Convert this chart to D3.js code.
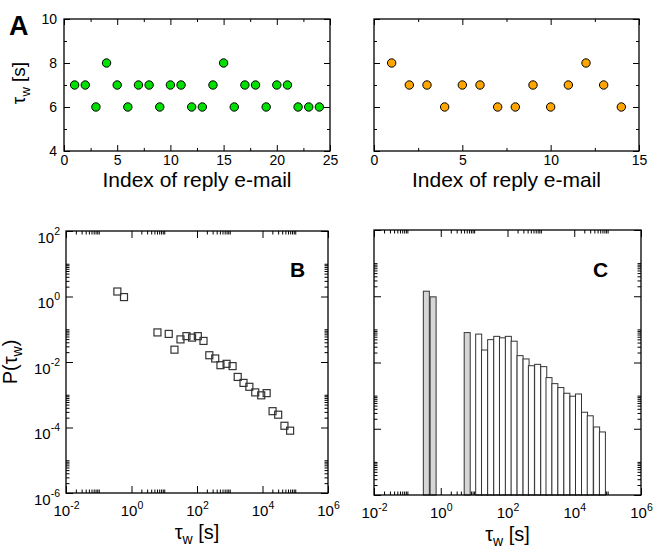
<!DOCTYPE html>
<html>
<head>
<meta charset="utf-8">
<script src="https://cdn.jsdelivr.net/npm/d3@7"></script>
<style>
body{margin:0;background:#fff;}
text{font-family:"Liberation Sans",Arial,Helvetica,sans-serif;}
</style>
</head>
<body>
<div id="figure"></div>
<script>
// panel A, left: waiting time of each reply e-mail
var replyIndexL = [1,2,3,4,5,6,7,8,9,10,11,12,13,14,15,16,17,18,19,20,21,22,23,24];
var waitL = [7,7,6,8,7,6,7,7,6,7,7,6,6,7,8,6,7,7,6,7,7,6,6,6];
// panel A, right
var replyIndexR = [1,2,3,4,5,6,7,8,9,10,11,12,13,14];
var waitR = [8,7,7,6,7,7,6,6,7,6,7,8,7,6];
// panels B and C: distribution of waiting times (log bins)
var binTau = [0.37,0.59,6.2,13.7,20.5,31.3,47.6,70.7,106,158,238,360,520,800,1220,1750,2630,3970,6000,9140,13400,20300,30100,46800,69700];
var binProb = [1.42,0.96,0.080,0.072,0.0238,0.049,0.0616,0.0556,0.0616,0.044,0.0161,0.0128,0.0080,0.0088,0.0075,0.0035,0.0023,0.00175,0.00118,0.00096,0.00112,0.000315,0.000246,0.000113,0.00008];
var shadedBins = 3;   // first bins drawn grey in panel C

// tick labels
var xTicksL = [0,5,10,15,20,25];
var xTicksR = [0,5,10,15];
var yTicksA = [4,6,8,10];
var logExpX = [-2,0,2,4,6];
var logExpY = [-6,-4,-2,0,2];

var svg = d3.select("#figure").append("svg")
	.attr("width", 664)
	.attr("height", 558);

function clean(g){ g.select(".domain").remove(); }

function frame(g, w, h){
	g.append("rect")
	.attr("width", w).attr("height", h)
	.attr("fill", "none").attr("stroke", "#000").attr("stroke-width", 1.3);
}

// scatter panel with linear axes
function linearPanel(left, top, w, h, xMax, xTicks, showY, xs, ys, color){
	var g = svg.append("g").attr("transform", "translate(" + left + "," + top + ")");
	var x = d3.scaleLinear().domain([0, xMax]).range([0, w]);
	var y = d3.scaleLinear().domain([4, 10]).range([h, 0]);
	var xMinor = d3.range(2.5, xMax, 5);
	var yMinor = [5,7,9];

	var bx = g.append("g").attr("transform", "translate(0," + h + ")")
	.call(d3.axisBottom(x).tickValues(xTicks).tickSize(-6).tickPadding(4))
	.attr("font-size", 14).call(clean);
	bx.selectAll(".tick text").attr("dy", "0.71em").attr("fill", "#000");
	g.append("g").attr("transform", "translate(0," + h + ")")
	.call(d3.axisBottom(x).tickValues(xMinor).tickSize(-3).tickFormat("")).call(clean);
	g.append("g").call(d3.axisTop(x).tickValues(xTicks).tickSize(-6).tickFormat("")).call(clean);
	g.append("g").call(d3.axisTop(x).tickValues(xMinor).tickSize(-3).tickFormat("")).call(clean);

	var ly = g.append("g")
	.call(d3.axisLeft(y).tickValues(yTicksA).tickSize(-6).tickPadding(7)
		.tickFormat(showY ? d3.format("d") : ""))
	.attr("font-size", 14).call(clean);
	ly.selectAll(".tick text").attr("fill", "#000");
	g.append("g").call(d3.axisLeft(y).tickValues(yMinor).tickSize(-3).tickFormat("")).call(clean);
	g.append("g").attr("transform", "translate(" + w + ",0)")
	.call(d3.axisRight(y).tickValues(yTicksA).tickSize(-6).tickFormat("")).call(clean);
	g.append("g").attr("transform", "translate(" + w + ",0)")
	.call(d3.axisRight(y).tickValues(yMinor).tickSize(-3).tickFormat("")).call(clean);

	frame(g, w, h);

	g.selectAll("circle")
	.data(xs)
	.enter()
	.append("circle")
	.attr("cx", function(d){ return x(d); })
	.attr("cy", function(d, i){ return y(ys[i]); })
	.attr("r", 4.2)
	.attr("fill", color)
	.attr("stroke", "#000")
	.attr("stroke-width", 1);

	g.append("text")
	.attr("x", w/2).attr("y", h + 36)
	.attr("text-anchor", "middle").attr("font-size", 21)
	.text("Index of reply e-mail");
	return g;
}

// minor ticks only in the even decades, 2..10 x 10^e
function logMinor(exps){
	var out = [];
	exps.slice(0, -1).forEach(function(e){
		for (var k = 2; k <= 10; k++) out.push(k * Math.pow(10, e));
	});
	return out;
}

function powerLabels(sel, sup){
	sel.selectAll(".tick text").each(function(d){
		var t = d3.select(this);
		var e = Math.round(Math.log10(d));
		t.text(null).attr("fill", "#000");
		t.append("tspan").text("10");
		t.append("tspan").attr("dy", -sup).attr("font-size", 10.5).text(e);
	});
}

// log-log panel
function logPanel(left, top, w, h, showY){
	var g = svg.append("g").attr("transform", "translate(" + left + "," + top + ")");
	var x = d3.scaleLog().domain([1e-2, 1e6]).range([0, w]);
	var y = d3.scaleLog().domain([1e-6, 1e2]).range([h, 0]);
	var xMajor = logExpX.map(function(e){ return Math.pow(10, e); });
	var yMajor = logExpY.map(function(e){ return Math.pow(10, e); });
	var xMinor = logMinor(logExpX);
	var yMinor = logMinor(logExpY);

	var bx = g.append("g").attr("transform", "translate(0," + h + ")")
	.call(d3.axisBottom(x).tickValues(xMajor).tickSize(-7))
	.attr("font-size", 15).call(clean);
	powerLabels(bx, 7);
	bx.selectAll(".tick text").attr("y", 23).attr("dy", 0);
	g.append("g").attr("transform", "translate(0," + h + ")")
	.call(d3.axisBottom(x).tickValues(xMinor).tickSize(-3.5).tickFormat("")).call(clean);
	g.append("g").call(d3.axisTop(x).tickValues(xMajor).tickSize(-7).tickFormat("")).call(clean);
	g.append("g").call(d3.axisTop(x).tickValues(xMinor).tickSize(-3.5).tickFormat("")).call(clean);

	var ly = g.append("g")
	.call(d3.axisLeft(y).tickValues(yMajor).tickSize(-7).tickPadding(6)
		.tickFormat(showY ? null : ""))
	.attr("font-size", 15).call(clean);
	if (showY){
		powerLabels(ly, 8);
		ly.selectAll(".tick text").attr("dy", 11);
	}
	g.append("g").call(d3.axisLeft(y).tickValues(yMinor).tickSize(-3.5).tickFormat("")).call(clean);
	g.append("g").attr("transform", "translate(" + w + ",0)")
	.call(d3.axisRight(y).tickValues(yMajor).tickSize(-7).tickFormat("")).call(clean);
	g.append("g").attr("transform", "translate(" + w + ",0)")
	.call(d3.axisRight(y).tickValues(yMinor).tickSize(-3.5).tickFormat("")).call(clean);

	var title = g.append("text")
	.attr("x", w/2).attr("y", h + 46)
	.attr("text-anchor", "middle").attr("font-size", 20);
	title.append("tspan").text("\u03c4");
	title.append("tspan").attr("font-size", 14).attr("dy", 5).text("w");
	title.append("tspan").attr("dy", -5).text(" [s]");
	return {g: g, x: x, y: y, w: w, h: h};
}

// ---- panel A
var pl = linearPanel(64, 19, 266, 132, 25, xTicksL, true, replyIndexL, waitL, "#00e000");
var pr = linearPanel(374, 19, 265, 132, 15, xTicksR, false, replyIndexR, waitR, "#ffa500");

var ya = svg.append("text")
	.attr("transform", "translate(25,83) rotate(-90)")
	.attr("text-anchor", "middle").attr("font-size", 19);
ya.append("tspan").text("\u03c4");
ya.append("tspan").attr("font-size", 13).attr("dy", 5).text("w");
ya.append("tspan").attr("dy", -5).text(" [s]");

svg.append("text").attr("x", 9).attr("y", 35)
	.attr("font-size", 27).attr("font-weight", "bold").text("A");

// ---- panel B
var pB = logPanel(66, 231, 262, 262, true);
frame(pB.g, pB.w, pB.h);
pB.g.selectAll("rect.pt")
	.data(binTau)
	.enter()
	.append("rect")
	.attr("class", "pt")
	.attr("x", function(d){ return pB.x(d) - 3.5; })
	.attr("y", function(d, i){ return pB.y(binProb[i]) - 3.5; })
	.attr("width", 7).attr("height", 7)
	.attr("fill", "none").attr("stroke", "#333").attr("stroke-width", 1.2);
pB.g.append("text").attr("x", 224).attr("y", 46)
	.attr("font-size", 21).attr("font-weight", "bold").text("B");

var yb = svg.append("text")
	.attr("transform", "translate(17,362) rotate(-90)")
	.attr("text-anchor", "middle").attr("font-size", 20);
yb.append("tspan").text("P(\u03c4");
yb.append("tspan").attr("font-size", 14).attr("dy", 5).text("w");
yb.append("tspan").attr("dy", -5).text(")");

// ---- panel C
var pC = logPanel(374, 230, 267, 265, false);
var halfBin = Math.pow(10, 0.09);
pC.g.selectAll("rect.bar")
	.data(binTau)
	.enter()
	.append("rect")
	.attr("class", "bar")
	.attr("x", function(d){ return pC.x(d / halfBin); })
	.attr("width", function(d){ return pC.x(d * halfBin) - pC.x(d / halfBin); })
	.attr("y", function(d, i){ return pC.y(binProb[i]); })
	.attr("height", function(d, i){ return pC.h - pC.y(binProb[i]); })
	.attr("fill", function(d, i){ return i < shadedBins ? "#d6d6d6" : "#fff"; })
	.attr("stroke", "#333").attr("stroke-width", 1);
frame(pC.g, pC.w, pC.h);
pC.g.append("text").attr("x", 219).attr("y", 47)
	.attr("font-size", 21).attr("font-weight", "bold").text("C");
</script>
</body>
</html>
